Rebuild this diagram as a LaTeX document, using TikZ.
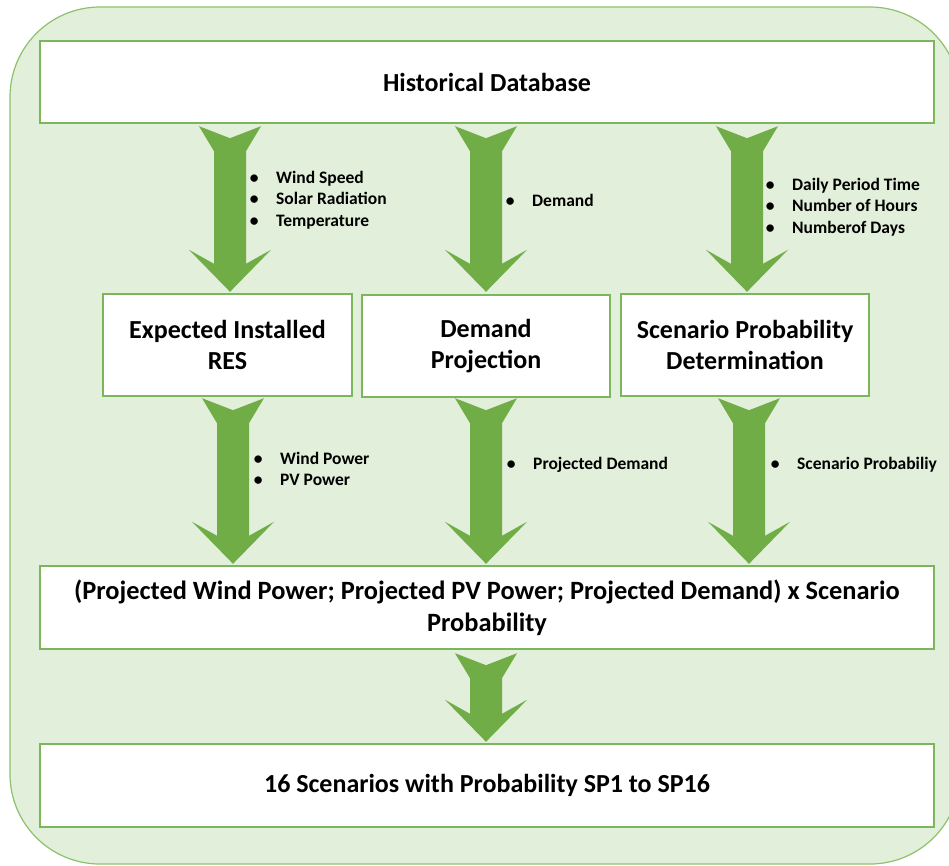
\documentclass[tikz,border=0pt]{standalone}
\usepackage{fontspec}
\setmainfont{Carlito}
\usetikzlibrary{calc}

\definecolor{panel}{HTML}{E2EFDA}
\definecolor{leaf}{HTML}{70AD47}
\definecolor{edge}{HTML}{7CB65A}
\definecolor{rim}{HTML}{8CC26B}

\tikzset{
  stage/.style={draw=edge, line width=2.4pt, fill=white, inner sep=0pt,
    align=center, text=black, font=\fontsize{26}{31.5}\selectfont\bfseries},
  notes/.style={anchor=west, inner sep=0pt, align=left, text=black,
    font=\fontsize{17.5}{21.3}\selectfont\bfseries},
  flow/.style={fill=leaf},
}

% bullet centred on the line start, text indented after it
\newcommand\bitem[1]{\makebox[0pt][c]{\textbullet}\hspace{22pt}#1}

% block arrow with notched tail: #1 = tail point, #2 = tip point
\newcommand\blockarrow[2]{%
  \fill[flow] let \p1=(#1), \p2=(#2) in
    (\x2-31pt,\y1) -- (\x2,\y1-12pt) -- (\x2+31pt,\y1) -- (\x2+16pt,\y1-25pt)
    -- (\x2+16pt,\y2+28pt) -- (\x2+41pt,\y2+42pt) -- (\x2,\y2)
    -- (\x2-41pt,\y2+42pt) -- (\x2-16pt,\y2+28pt) -- (\x2-16pt,\y1-25pt) -- cycle;
}

\begin{document}
\begin{tikzpicture}[x=1pt,y=-1pt]
  \useasboundingbox (0,0) rectangle (949,865);

  % background panel
  \draw[draw=rim, line width=1.2pt, fill=panel, rounded corners=90pt]
    (10,7) rectangle (960,864);

  % stages
  \node[stage, minimum width=894pt, minimum height=82pt] (hist) at (487,82) {Historical Database};
  \node[stage, minimum width=249pt, minimum height=102pt] (res) at (227.5,345) {Expected Installed\\RES};
  \node[stage, minimum width=248pt, minimum height=102pt] (dem) at (486,346) {Demand\\Projection};
  \node[stage, minimum width=248pt, minimum height=102pt] (prob) at (745,345) {Scenario Probability\\Determination};
  \node[stage, minimum width=894pt, minimum height=83pt, font=\fontsize{26.4}{31.8}\selectfont\bfseries]
    (combo) at (487,607.5)
    {(Projected Wind Power; Projected PV Power; Projected Demand) x Scenario\\Probability};
  \node[stage, minimum width=894pt, minimum height=83pt] (final) at (487,785.5)
    {16 Scenarios with Probability SP1 to SP16};

  % flows from the database
  \blockarrow{$(hist.south -| res.north)+(2.5,2)$}{$(res.north)+(2.5,-1)$}
  \blockarrow{$(hist.south -| dem.north)+(0,2)$}{$(dem.north)+(0,-2)$}
  \blockarrow{$(hist.south -| prob.north)+(2,2)$}{$(prob.north)+(2,-1)$}

  % flows into the combined stage
  \blockarrow{$(res.south)+(5.5,1)$}{$(combo.north -| res.south)+(5.5,-1)$}
  \blockarrow{$(dem.south)+(0,0)$}{$(combo.north -| dem.south)+(0,-1)$}
  \blockarrow{$(prob.south)+(4,1)$}{$(combo.north -| prob.south)+(4,-1)$}

  % final flow
  \blockarrow{$(combo.south -| dem.south)+(0,3)$}{$(final.north -| dem.south)+(0,-1)$}

  % flow labels
  \node[notes] (n1) at (254,200) {\bitem{Wind Speed}\\\bitem{Solar Radiation}\\\bitem{Temperature}};
  \node[notes] (n2) at (510,200) {\bitem{Demand}};
  \node[notes] (n3) at (770,207) {\bitem{Daily Period Time}\\\bitem{Number of Hours}\\\bitem{Numberof Days}};
  \node[notes] (n4) at (258,469) {\bitem{Wind Power}\\\bitem{PV Power}};
  \node[notes] (n5) at (511,465) {\bitem{Projected Demand}};
  \node[notes] (n6) at (775,465) {\bitem{Scenario Probabiliy}};
\end{tikzpicture}
\end{document}
